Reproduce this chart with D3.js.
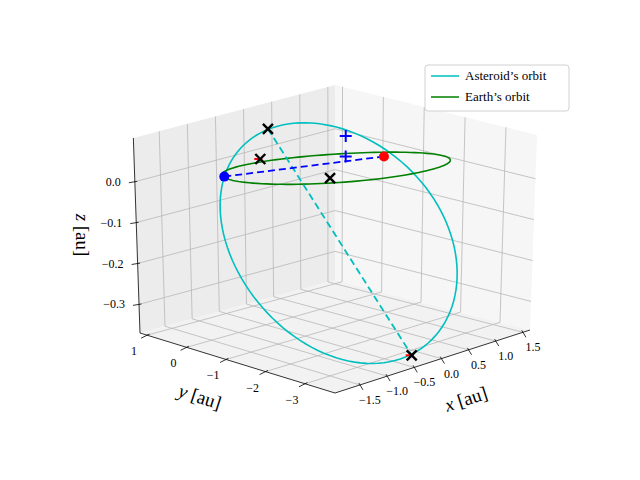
<!DOCTYPE html>
<html>
<head>
  <style>
    body { margin: 0; background: white; }
    text { font-family: "Liberation Serif", "DejaVu Serif", serif; }
  </style>
</head>
<body>
  <script src="https://d3js.org/d3.v7.min.js"></script>
  <script>
    var width = 640, height = 480;

    var xDomain = [-1.96, 1.63], yDomain = [-3.76, 1.18], zDomain = [-0.37, 0.107];
    var xTicks = [-1.5, -1.0, -0.5, 0.0, 0.5, 1.0, 1.5];
    var yTicks = [1, 0, -1, -2, -3];
    var zTicks = [0.0, -0.1, -0.2, -0.3];

    // orbits: centre, two half-axis vectors [x, y, z]
    var earthOrbit = { c: [0.31, -0.66, 0], u: [1.22, -1.14, 0], v: [-0.50, -0.61, 0] };
    var asteroidOrbit = { c: [-0.32, -1.61, -0.13], u: [0.72, 2.26, 0.2], v: [1.53, -0.56, 0] };

    var bluePoint = [-0.96, 0.35, 0], redPoint = [0.84, -1.11, 0.02];
    var plusPoints = [[0.78, -0.25, 0], [0.78, -0.25, 0.05]];
    var crossPoints = [[-0.07, 0.49, 0.08], [-0.28, -3.39, -0.36], [-0.06, -1.02, 0], [-0.06, 0.70, 0]];
    var redCrossPoints = [[-0.28, -3.39, -0.36], [-0.06, 0.70, 0]];
    var nodeLine = [[-0.07, 0.49, 0.08], [-0.28, -3.39, -0.36]];

    var fx = d3.scaleLinear().domain(xDomain).range([0, 1]);
    var fy = d3.scaleLinear().domain(yDomain).range([0, 1]);
    var fz = d3.scaleLinear().domain(zDomain).range([0, 1]);

    // affine view of the box with a little perspective for the far corner
    function proj(p) {
      var a = fx(p[0]), b = fy(p[1]), c = fz(p[2]);
      var sx = 335 + 195 * a - 195 * b;
      var sy = 393 - 63 * a - 60 * b - 195 * c + 10 * a * b;
      sx += 0.035 * (sx - 330) * c;
      return [sx, sy];
    }

    var svg = d3.select("body").append("svg").attr("width", width).attr("height", height);
    var line = d3.line();

    var x0 = xDomain[0], x1 = xDomain[1], y0 = yDomain[0], y1 = yDomain[1], z0 = zDomain[0], z1 = zDomain[1];
    var panes = [
      { pts: [[x0, y0, z0], [x1, y0, z0], [x1, y1, z0], [x0, y1, z0]], fill: "#f2f2f2" },
      { pts: [[x0, y1, z0], [x1, y1, z0], [x1, y1, z1], [x0, y1, z1]], fill: "#ececec" },
      { pts: [[x1, y0, z0], [x1, y1, z0], [x1, y1, z1], [x1, y0, z1]], fill: "#f6f6f6" }
    ];
    svg.selectAll(".pane").data(panes).enter().append("path")
      .attr("d", d => line(d.pts.map(proj)) + "Z").attr("fill", d => d.fill);

    var grid = [];
    xTicks.forEach(t => {
      grid.push([[t, y0, z0], [t, y1, z0]]);
      grid.push([[t, y1, z0], [t, y1, z1]]);
    });
    yTicks.forEach(t => {
      grid.push([[x0, t, z0], [x1, t, z0]]);
      grid.push([[x1, t, z0], [x1, t, z1]]);
    });
    zTicks.forEach(t => {
      grid.push([[x0, y1, t], [x1, y1, t]]);
      grid.push([[x1, y1, t], [x1, y0, t]]);
    });
    svg.selectAll(".grid").data(grid).enter().append("path")
      .attr("d", d => line(d.map(proj))).attr("stroke", "#b8b8b8").attr("stroke-width", 0.8).attr("fill", "none");

    // axis lines
    var axes = [[[x0, y0, z0], [x1, y0, z0]], [[x0, y0, z0], [x0, y1, z0]], [[x0, y1, z0], [x0, y1, z1]]];
    svg.selectAll(".axis").data(axes).enter().append("path")
      .attr("d", d => line(d.map(proj))).attr("stroke", "black").attr("stroke-width", 0.8);

    function tick(p, dx, dy) {
      var s = proj(p);
      svg.append("line").attr("x1", s[0] - dx * 0.4).attr("y1", s[1] - dy * 0.4).attr("x2", s[0] + dx).attr("y2", s[1] + dy)
        .attr("stroke", "black").attr("stroke-width", 0.8);
    }
    var fmt1 = d => (d < 0 ? "\u2212" : "") + Math.abs(d).toFixed(1);
    var fmtI = d => (d < 0 ? "\u2212" : "") + Math.abs(d);
    xTicks.forEach(t => {
      tick([t, y0, z0], 3, 5);
      var s = proj([t, y0, z0]);
      svg.append("text").attr("x", s[0] + 10).attr("y", s[1] + 19).attr("text-anchor", "middle").attr("font-size", 12).text(fmt1(t));
    });
    yTicks.forEach(t => {
      tick([x0, t, z0], -6, 3);
      var s = proj([x0, t, z0]);
      svg.append("text").attr("x", s[0] - 13).attr("y", s[1] + 20).attr("text-anchor", "middle").attr("font-size", 12).text(fmtI(t));
    });
    zTicks.forEach(t => {
      tick([x0, y1, t], -6, 1);
      var s = proj([x0, y1, t]);
      svg.append("text").attr("x", s[0] - 14).attr("y", s[1] + 4).attr("text-anchor", "end").attr("font-size", 12).text(fmt1(t));
    });

    function axisLabel(x, y, rot, v) {
      var t = svg.append("text").attr("transform", "translate(" + x + "," + y + ") rotate(" + rot + ")")
        .attr("text-anchor", "middle").attr("font-size", 19);
      t.append("tspan").attr("font-style", "italic").text(v);
      t.append("tspan").text(" [au]");
    }
    axisLabel(468, 405, -18, "x");
    axisLabel(198, 403, 18, "y");
    axisLabel(76, 235, 90, "z");

    function ellipsePts(o) {
      return d3.range(0, 361, 3).map(a => {
        var r = a * Math.PI / 180, c = Math.cos(r), s = Math.sin(r);
        return proj([0, 1, 2].map(i => o.c[i] + c * o.u[i] + s * o.v[i]));
      });
    }
    svg.append("path").attr("d", line(ellipsePts(asteroidOrbit))).attr("fill", "none").attr("stroke", "#00bfbf").attr("stroke-width", 1.6);
    svg.append("path").attr("d", line(ellipsePts(earthOrbit))).attr("fill", "none").attr("stroke", "green").attr("stroke-width", 1.6);

    svg.append("path").attr("d", line(nodeLine.map(proj))).attr("stroke", "#00bfbf").attr("stroke-width", 1.8).attr("stroke-dasharray", "7,4");
    svg.append("path").attr("d", line([bluePoint, redPoint].map(proj))).attr("stroke", "blue").attr("stroke-width", 1.8).attr("stroke-dasharray", "7,4");

    function cross(p, size, color, w) {
      var s = proj(p);
      svg.append("path").attr("d", "M" + (s[0] - size) + "," + (s[1] - size) + "L" + (s[0] + size) + "," + (s[1] + size) +
        "M" + (s[0] - size) + "," + (s[1] + size) + "L" + (s[0] + size) + "," + (s[1] - size))
        .attr("stroke", color).attr("stroke-width", w);
    }
    redCrossPoints.forEach(p => {
      var s = proj(p);
      svg.append("path").attr("d", "M" + (s[0] - 6) + "," + s[1] + "L" + (s[0] + 2) + "," + s[1]).attr("stroke", "red").attr("stroke-width", 2);
    });
    crossPoints.forEach(p => cross(p, 5, "black", 2.4));
    plusPoints.forEach(p => {
      var s = proj(p);
      svg.append("path").attr("d", "M" + (s[0] - 6) + "," + s[1] + "L" + (s[0] + 6) + "," + s[1] + "M" + s[0] + "," + (s[1] - 6) + "L" + s[0] + "," + (s[1] + 6))
        .attr("stroke", "blue").attr("stroke-width", 2);
    });
    svg.append("circle").attr("cx", proj(bluePoint)[0]).attr("cy", proj(bluePoint)[1]).attr("r", 5).attr("fill", "blue");
    svg.append("circle").attr("cx", proj(redPoint)[0]).attr("cy", proj(redPoint)[1]).attr("r", 5).attr("fill", "red");

    // legend
    var legendNames = ["Asteroid\u2019s orbit", "Earth\u2019s orbit"];
    var legendColors = ["#00bfbf", "green"];
    var lg = svg.append("g").attr("transform", "translate(425,65)");
    lg.append("rect").attr("width", 144).attr("height", 46).attr("rx", 3).attr("fill", "white").attr("stroke", "#d0d0d0");
    legendNames.forEach((n, i) => {
      lg.append("line").attr("x1", 6).attr("x2", 34).attr("y1", 11 + i * 21).attr("y2", 11 + i * 21).attr("stroke", legendColors[i]).attr("stroke-width", 1.5);
      lg.append("text").attr("x", 40).attr("y", 15 + i * 21).attr("font-size", 13).text(n);
    });
  </script>
</body>
</html>
